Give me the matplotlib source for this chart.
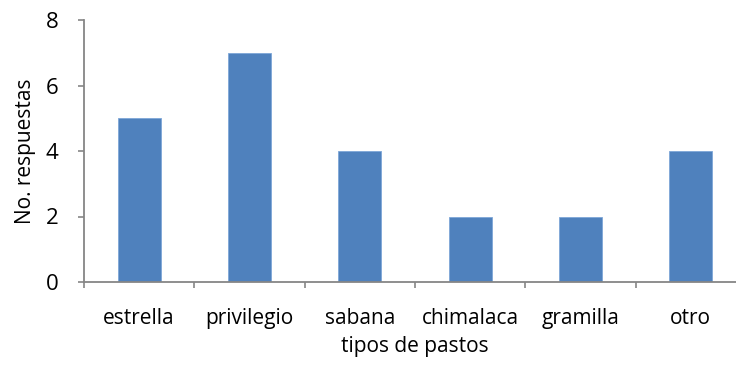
import matplotlib
matplotlib.use("Agg")
import matplotlib.pyplot as plt
import numpy as np

# datos
pastos = ["estrella", "privilegio", "sabana", "chimalaca", "gramilla", "otro"]
respuestas = [5, 7, 4, 2, 2, 4]

plt.rcParams['font.family'] = ['Open Sans', 'DejaVu Sans']

fig = plt.figure(figsize=(7.36, 3.71), dpi=100)
ax = fig.add_axes([84 / 736, 89 / 371, 662 / 736, 262 / 371])

x = np.arange(len(pastos))
ax.bar(x, respuestas, width=0.39, color="#4F81BD", edgecolor="#7EA6D8", linewidth=0.6, zorder=2)

ax.set_xlim(-0.5, len(pastos) - 0.5)
ax.set_ylim(0, 8)
ax.set_yticks([0, 2, 4, 6, 8])
ax.set_xticks(x)
ax.set_xticklabels(pastos, fontsize=15)
ax.set_xticks(np.arange(len(pastos) + 1) - 0.5, minor=True)
ax.tick_params(axis="x", which="major", length=0, pad=19)
ax.tick_params(axis="x", which="minor", length=4.5, color="#868686", width=1.2, direction="out")
ax.tick_params(axis="y", labelsize=16, length=4.5, color="#868686", width=1.2, pad=14)

for s in ["top", "right"]:
    ax.spines[s].set_visible(False)
for s in ["left", "bottom"]:
    ax.spines[s].set_color("#868686")
    ax.spines[s].set_linewidth(1.3)

ax.set_xlabel("tipos de pastos", fontsize=15, labelpad=5)
ax.set_ylabel("No. respuestas", fontsize=15, labelpad=7)

fig.savefig("out.png", dpi=100)
